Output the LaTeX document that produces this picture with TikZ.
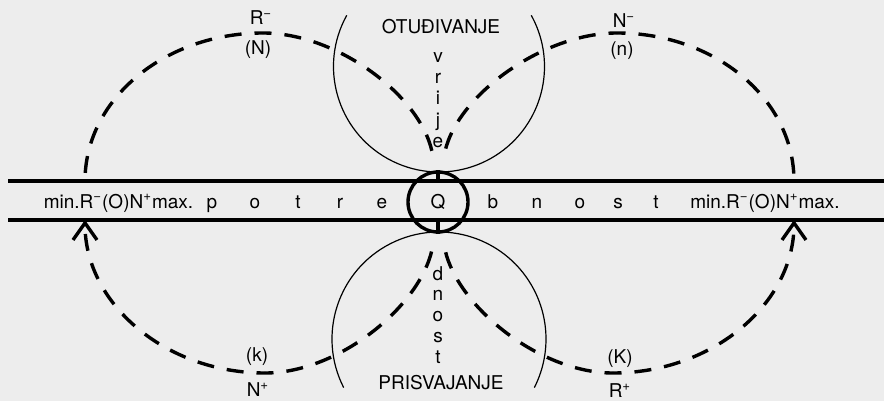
\documentclass[tikz,border=0pt]{standalone}
\usepackage{fontspec}
\setmainfont{TeX Gyre Heros}
\usetikzlibrary{arrows.meta}

\begin{document}
\begin{tikzpicture}[x=0.5pt,y=0.5pt,font=\fontsize{9.5}{11}\selectfont, lbl/.style={inner sep=0pt}, txt/.style={inner sep=0pt,anchor=base}, band/.style={line width=1.6pt}, ring/.style={line width=0.6pt}, flow/.style={line width=1.7pt,dash pattern=on 8.5pt off 6.5pt,dash phase=4.25pt}, >={Straight Barb[length=8.5pt,width=12pt]}]
\fill[black!7] (0,0) rectangle (884,-401);
\useasboundingbox (0,0) rectangle (884,-401);
% band with Q
\coordinate (tl) at (8,-181); \coordinate (tr) at (884,-181);
\coordinate (bl) at (8,-220); \coordinate (br) at (884,-220);
\draw[band] (tl)--(tr); \draw[band] (bl)--(br);
\node[draw,circle,line width=1.7pt,minimum size=30pt,inner sep=0pt] (q) at (438,-202) {Q};
\draw[band] (q.north)--(q.north|-tl); \draw[band] (q.south)--(q.south|-bl);
\node[txt] (mnl) at (118.5,-208) {min.R\textsuperscript{−}(O)N\textsuperscript{+}max.};
\node[txt] (mnr) at (765,-208) {min.R\textsuperscript{−}(O)N\textsuperscript{+}max.};
\foreach \ch/\x [count=\k] in {p/212,o/255,t/298,r/340,e/382} \node[txt] (wl\k) at (\x,-208) {\ch};
\foreach \ch/\x [count=\k] in {b/493,n/537,o/580,s/618,t/656} \node[txt] (wr\k) at (\x,-208) {\ch};
% the two big circles
\draw[ring] (439,-66.5) ++(151:105.5) arc[start angle=151,end angle=389,radius=105.5];
\draw[ring] (439,-339) ++(207:107) arc[start angle=207,end angle=-27,radius=107];
\node[txt] (ot) at (441,-34) {OTUĐIVANJE};
\node[txt] (pr) at (441,-389) {PRISVAJANJE};
\foreach \ch [count=\k] in {v,r,i,j,e} \node[txt] (up\k) at (438,-41-21.3*\k) {\ch};
\foreach \ch [count=\k] in {d,n,o,s,t} \node[txt] (dn\k) at (438,-259.25-20.75*\k) {\ch};
% dashed arches
\coordinate (ul) at (85,-181); \coordinate (ur) at (794,-181);
\coordinate (ll) at (85,-220); \coordinate (lr) at (794,-220);
\coordinate (pn) at (263,-33); \coordinate (pm) at (617,-33);
\coordinate (pk) at (265,-373); \coordinate (pK) at (613,-373);
\coordinate (qa) at (433,-157); \coordinate (qb) at (444,-157);
\coordinate (qc) at (433,-244); \coordinate (qd) at (444,-244);
\draw[flow] (pn) .. controls +(-98,0) and +(0,82) .. (ul);
\draw[flow] (pn) .. controls +(76,0) and +(-8,58) .. (qa);
\draw[flow] (pm) .. controls +(98,0) and +(0,82) .. (ur);
\draw[flow] (pm) .. controls +(-76,0) and +(8,58) .. (qb);
\draw[flow,->] (pk) .. controls +(-99,0) and +(0,-84) .. (ll);
\draw[flow] (pk) .. controls +(76,0) and +(-8,-58) .. (qc);
\draw[flow,->] (pK) .. controls +(99,0) and +(0,-84) .. (lr);
\draw[flow] (pK) .. controls +(-76,0) and +(8,-58) .. (qd);
% labels at the arches
\node[lbl] (rm) at (261,-18) {R\textsuperscript{−}};
\node[lbl] (nn) at (258,-50) {(N)};
\node[lbl] (nm) at (624,-21) {N\textsuperscript{−}};
\node[lbl] (ns) at (622,-51) {(n)};
\node[lbl] (kk) at (257,-357) {(k)};
\node[lbl] (np) at (258,-390) {N\textsuperscript{+}};
\node[lbl] (kK) at (620,-359) {(K)};
\node[lbl] (rp) at (620,-391) {R\textsuperscript{+}};
\end{tikzpicture}
\end{document}
